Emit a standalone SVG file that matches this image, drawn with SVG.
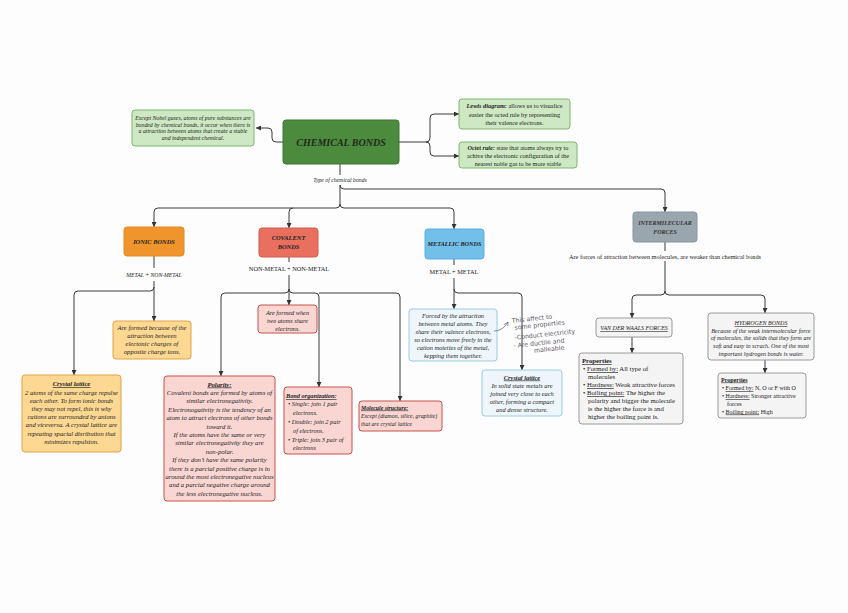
<svg xmlns="http://www.w3.org/2000/svg" width="848" height="613" viewBox="0 0 848 613">
<defs>
<marker id="ar" viewBox="0 0 6 6" refX="6" refY="3" markerWidth="5" markerHeight="5" markerUnits="userSpaceOnUse" orient="auto"><path d="M0,0 L6,3 L0,6 z" fill="#333"/></marker>
<marker id="arh" viewBox="0 0 6 6" refX="5" refY="3" markerWidth="5" markerHeight="5" markerUnits="userSpaceOnUse" orient="auto"><path d="M0,0.5 L5,3 L0,5.5" fill="none" stroke="#666" stroke-width="0.8"/></marker>
<style>
.t{font-family:"Liberation Serif","DejaVu Serif",serif;fill:#222}
.i{font-style:italic}
.b{font-weight:bold}
.u{text-decoration:underline}
.c{text-anchor:middle}
.conn{fill:none;stroke:#3a3a3a;stroke-width:1}
.gn{fill:#cde8c3;stroke:#7fb56f;stroke-width:1}
.on{fill:#fcd893;stroke:#e3a247;stroke-width:1}
.pn{fill:#fad6d3;stroke:#c8504c;stroke-width:1}
.bn{fill:#eef6fb;stroke:#9ccae6;stroke-width:1}
.yn{fill:#f4f4f4;stroke:#9a9a9a;stroke-width:1}
.hw{font-family:"DejaVu Sans","Liberation Sans",sans-serif;font-size:6.2px;fill:#5a5a66}
</style>
</defs>
<rect width="848" height="613" fill="#fdfdfd"/>

<g id="connectors">
<path class="conn" marker-end="url(#ar)" d="M283,142 H276 Q272,142 272,138 V132 Q272,128 268,128 H256"/>
<path class="conn" marker-end="url(#ar)" d="M399,142 H426 Q430,142 430,138 V118 Q430,114 434,114 H459"/>
<path class="conn" marker-end="url(#ar)" d="M426,142 Q430,142 430,146 V152 Q430,156 434,156 H459"/>
<path class="conn" d="M340,164 V175"/>
<path class="conn" marker-end="url(#ar)" d="M340,185 V204 Q340,208 336,208 H158 Q154,208 154,212 V227"/>
<path class="conn" marker-end="url(#ar)" d="M293,208 Q289,208 289,212 V228"/>
<path class="conn" marker-end="url(#ar)" d="M340,204 Q340,208 344,208 H450 Q454,208 454,212 V229"/>
<path class="conn" marker-end="url(#ar)" d="M340,185 Q340,189 344,189 H661 Q665,189 665,193 V212"/>
<path class="conn" d="M154,256 V268"/>
<path class="conn" marker-end="url(#ar)" d="M154,281 V321"/>
<path class="conn" marker-end="url(#ar)" d="M154,287 Q154,291 150,291 H78 Q74,291 74,295 V375"/>
<path class="conn" d="M289,257 V262"/>
<path class="conn" marker-end="url(#ar)" d="M289,275 V305"/>
<path class="conn" marker-end="url(#ar)" d="M289,289 Q289,293 285,293 H225 Q221,293 221,297 V376"/>
<path class="conn" marker-end="url(#ar)" d="M289,289 Q289,293 293,293 H315 Q319,293 319,297 V387"/>
<path class="conn" marker-end="url(#ar)" d="M319,293 H396 Q400,293 400,297 V401"/>
<path class="conn" d="M454,259 V265"/>
<path class="conn" marker-end="url(#ar)" d="M454,278 V309"/>
<path class="conn" marker-end="url(#ar)" d="M454,289 Q454,293 458,293 H518 Q522,293 522,297 V370"/>
<path class="conn" d="M665,242 V251"/>
<path class="conn" marker-end="url(#ar)" d="M665,261 V291 Q665,295 661,295 H636 Q632,295 632,299 V318"/>
<path class="conn" marker-end="url(#ar)" d="M665,291 Q665,295 669,295 H761 Q765,295 765,299 V313"/>
<path class="conn" marker-end="url(#ar)" d="M632,337 V353"/>
<path class="conn" marker-end="url(#ar)" d="M765,360 V373"/>
</g>

<g id="edge-labels">
<text class="t i c" x="340" y="182" font-size="5.7">Type of chemical bonds</text>
<text class="t i c" x="154" y="277" font-size="5.7">METAL + NON-METAL</text>
<text class="t c" x="289" y="271" font-size="6.3">NON-METAL + NON-METAL</text>
<text class="t c" x="454" y="274" font-size="6.3">METAL + METAL</text>
<text class="t c" x="665" y="259" font-size="6.3">Are forces of attraction between molecules, are weaker than chemical bonds</text>
</g>

<g id="chemical-bonds">
<rect x="283" y="120" width="116" height="44" rx="3" fill="#4c8a3d" stroke="#3e7532"/>
<text class="t i b c" x="341" y="145.5" font-size="10" style="fill:#1f2a1a">CHEMICAL BONDS</text>
</g>

<g id="note-noble">
<rect class="gn" x="132" y="110" width="122" height="36" rx="3"/>
<text class="t i c" x="193" font-size="5.8"><tspan x="193" y="120">Except Nobel gases, atoms of pure substances are</tspan><tspan x="193" y="126.5">bonded by chemical bonds, it occur when there is</tspan><tspan x="193" y="133">a attraction between atoms that create a stable</tspan><tspan x="193" y="140">and independent chemical.</tspan></text>
</g>

<g id="note-lewis">
<rect class="gn" x="459" y="99" width="111" height="30" rx="3"/>
<text class="t c" font-size="6.3"><tspan x="514.5" y="108"><tspan class="b i">Lewis diagram:</tspan> allows us to visualice</tspan><tspan x="514.5" y="116.5">easier the octed rule by representing</tspan><tspan x="514.5" y="125">their valence electrons.</tspan></text>
</g>

<g id="note-octet">
<rect class="gn" x="459" y="142" width="118" height="26" rx="3"/>
<text class="t c" font-size="6.2"><tspan x="518" y="149.5"><tspan class="b i">Octet rule:</tspan> state that atoms always try to</tspan><tspan x="518" y="158">achive the electronic configuration of the</tspan><tspan x="518" y="166">nearest noble gas to be more stable</tspan></text>
</g>

<g id="ionic-bonds">
<rect x="124" y="227" width="60" height="29" rx="3" fill="#f0952b" stroke="#e08a2a"/>
<text class="t b i c" x="154" y="244" font-size="6.4">IONIC BONDS</text>
</g>

<g id="covalent-bonds">
<rect x="259" y="228" width="59" height="29" rx="3" fill="#e9705f" stroke="#d05c4c"/>
<text class="t b i c" font-size="6.4"><tspan x="288.5" y="240">COVALENT</tspan><tspan x="288.5" y="248.5">BONDS</tspan></text>
</g>

<g id="metallic-bonds">
<rect x="425" y="229" width="59" height="30" rx="3" fill="#72bfe9" stroke="#5aaee0"/>
<text class="t b i c" x="454.5" y="246" font-size="6.2">METALLIC BONDS</text>
</g>

<g id="intermolecular-forces">
<rect x="633" y="212" width="64" height="30" rx="3" fill="#9aa6ae" stroke="#8896a0"/>
<text class="t b i c" font-size="6" style="fill:#333"><tspan x="665" y="225">INTERMILECULAR</tspan><tspan x="665" y="233.5">FORCES</tspan></text>
</g>

<g id="ionic-formed">
<rect class="on" x="113" y="321" width="78" height="38" rx="3"/>
<text class="t i c" font-size="6.6"><tspan x="152" y="329.5">Are formed because of the</tspan><tspan x="152" y="337.5">attraction between</tspan><tspan x="152" y="345.5">electonic charges of</tspan><tspan x="152" y="353.5">opposite charge ions.</tspan></text>
</g>

<g id="ionic-crystal-lattice">
<rect class="on" x="22" y="375" width="99" height="77" rx="3"/>
<text class="t i c" font-size="6.6"><tspan x="71.5" y="386" class="b u">Crystal lattice</tspan><tspan x="71.5" y="394.5">2 atoms of the same charge repulse</tspan><tspan x="71.5" y="402.7">each other. To form ionic bonds</tspan><tspan x="71.5" y="411">they may not repel, this is why</tspan><tspan x="71.5" y="419.2">cations are surrounded by anions</tspan><tspan x="71.5" y="427.4">and viceversa. A crystal lattice are</tspan><tspan x="71.5" y="435.6">repeating spacial disribution that</tspan><tspan x="71.5" y="443.8">minimizes repulsion.</tspan></text>
</g>

<g id="covalent-formed">
<rect class="pn" x="258" y="305" width="59" height="28" rx="3"/>
<text class="t i c" font-size="6.3"><tspan x="287.5" y="314.5">Are formed when</tspan><tspan x="287.5" y="322.5">two atoms share</tspan><tspan x="287.5" y="330.5">electrons.</tspan></text>
</g>

<g id="polarity">
<rect class="pn" x="164" y="376" width="111" height="125" rx="3"/>
<text class="t i c" font-size="6.7"><tspan x="219.5" y="386.5" class="b u">Polarity:</tspan><tspan x="219.5" y="394.9">Covalent bonds are formed by atoms of</tspan><tspan x="219.5" y="403.3">similar electronegativity.</tspan><tspan x="219.5" y="411.7">Electronogativity is the tendency of an</tspan><tspan x="219.5" y="420.1">atom to attract electrons of other bonds</tspan><tspan x="219.5" y="428.5">toward it.</tspan><tspan x="219.5" y="436.9">If the atoms have the same or very</tspan><tspan x="219.5" y="445.3">similar electronegativity they are</tspan><tspan x="219.5" y="453.7">non-polar.</tspan><tspan x="219.5" y="462.1">If they don’t have the same polarity</tspan><tspan x="219.5" y="470.5">there is a parcial positive charge is in</tspan><tspan x="219.5" y="478.9">around the most electronegative nucleus</tspan><tspan x="219.5" y="487.3">and a parcial negative charge around</tspan><tspan x="219.5" y="495.7">the less electronegative nucleus.</tspan></text>
</g>

<g id="bond-organization">
<rect class="pn" x="284" y="387" width="68" height="67" rx="3"/>
<text class="t i" font-size="6.3"><tspan x="286" y="398" class="b u">Bond organization:</tspan><tspan x="288" y="406">• Single: join 1 pair</tspan><tspan x="293" y="415">electrons.</tspan><tspan x="288" y="424">• Double: join 2 pair</tspan><tspan x="293" y="433">of electrons.</tspan><tspan x="288" y="442">• Triple: join 3 pair of</tspan><tspan x="293" y="450">electrons</tspan></text>
</g>

<g id="molecule-structure">
<rect class="pn" x="359" y="401" width="83" height="30" rx="3"/>
<text class="t i" font-size="5.8"><tspan x="361" y="409.5" class="b u">Molecule structure:</tspan><tspan x="361" y="418">Except (diamon, silice, graphite)</tspan><tspan x="361" y="425.5">that are crystal lattice</tspan></text>
</g>

<g id="metallic-forced">
<rect class="bn" x="409" y="309" width="88" height="52" rx="3"/>
<text class="t i c" font-size="6.4"><tspan x="453" y="318">Forced  by the attraction</tspan><tspan x="453" y="326">between metal atoms. They</tspan><tspan x="453" y="334">share their valence electrons,</tspan><tspan x="453" y="342">so electrons move freely  in the</tspan><tspan x="453" y="350">cation moieties of the metal,</tspan><tspan x="453" y="358">kepping them together.</tspan></text>
</g>

<g id="metallic-crystal-lattice">
<rect class="bn" x="482" y="370" width="80" height="46" rx="3"/>
<text class="t i c" font-size="6.4"><tspan x="522" y="379.5" class="b u">Crystal lattice</tspan><tspan x="522" y="387.5">In solid state metals are</tspan><tspan x="522" y="395.5">joined very close to each</tspan><tspan x="522" y="403.5">other, forming a compact</tspan><tspan x="522" y="411.5">and dense structure.</tspan></text>
</g>

<g id="handwritten-note">
<path d="M494,331 Q503,331 508,322" fill="none" stroke="#666" stroke-width="0.7" marker-end="url(#arh)"/>
<text class="hw" transform="rotate(-6 540 330)"><tspan x="513" y="320">This affect to</tspan><tspan x="515" y="327">some properties</tspan><tspan x="514" y="337">-Conduct electricity</tspan><tspan x="512" y="345">- Are ductile and</tspan><tspan x="532" y="352">malleable</tspan></text>
</g>

<g id="van-der-waals">
<rect class="yn" x="596" y="318" width="76" height="19" rx="3"/>
<text class="t i u c" x="634" y="330" font-size="6">VAN DER WAALS FORCES</text>
</g>

<g id="vdw-properties">
<rect class="yn" x="579" y="353" width="104" height="71" rx="3"/>
<text class="t" font-size="6.7"><tspan x="582" y="363" class="b u">Properties</tspan><tspan x="583" y="371">• <tspan class="u">Formed by:</tspan> All type of</tspan><tspan x="588" y="379">molecules</tspan><tspan x="583" y="387">• <tspan class="u">Hardness:</tspan> Weak attractive forces</tspan><tspan x="583" y="395">• <tspan class="u">Boiling point:</tspan> The higher the</tspan><tspan x="588" y="403">polarity and bigger the molecule</tspan><tspan x="588" y="411">is the higher the force is and</tspan><tspan x="588" y="419">higher the boiling point is.</tspan></text>
</g>

<g id="hydrogen-bonds">
<rect class="yn" x="708" y="313" width="106" height="47" rx="3"/>
<text class="t i c" font-size="6"><tspan x="761" y="325" class="u">HYDROGEN BONDS</tspan><tspan x="761" y="332.5">Because of the weak intermolecular force</tspan><tspan x="761" y="340">of molecules, the solids that they form are</tspan><tspan x="761" y="348">soft and easy to scrach. One of the most</tspan><tspan x="761" y="355.5">important hydrogen bonds is water.</tspan></text>
</g>

<g id="hb-properties">
<rect class="yn" x="718" y="373" width="88" height="45" rx="3"/>
<text class="t" font-size="6"><tspan x="721" y="381.5" class="b u">Properties</tspan><tspan x="722" y="390">• <tspan class="u">Formed by:</tspan> N, O or F with O</tspan><tspan x="722" y="398">• <tspan class="u">Hardness:</tspan> Stronger attractive</tspan><tspan x="727" y="405.5">forces</tspan><tspan x="722" y="413.5">• <tspan class="u">Boiling point:</tspan> High</tspan></text>
</g>
</svg>
